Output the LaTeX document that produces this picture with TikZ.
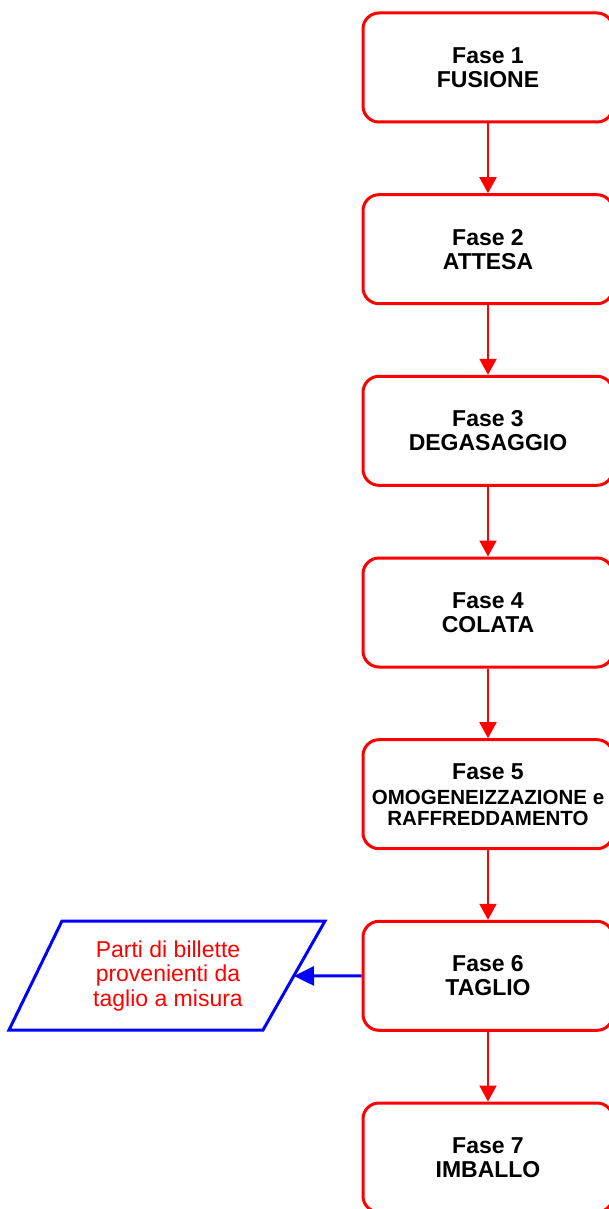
\documentclass[tikz,border=0pt]{standalone}
\usepackage{fontspec}
\setmainfont{Liberation Sans}
\usetikzlibrary{arrows.meta}
\begin{document}
\begin{tikzpicture}[x=1pt,y=-1pt,
  phase/.style={draw=red, line width=3pt, rounded corners=16pt, minimum width=250pt, minimum height=109pt,
    inner sep=0pt, align=center, font=\fontsize{23}{24}\selectfont\bfseries, text=black},
  redarrow/.style={draw=red, line width=2pt, -{Triangle[length=16pt,width=17pt]}},
  bluearrow/.style={draw=blue, line width=3pt, -{Triangle[length=20pt,width=19pt]}},
  para/.style={draw=blue, line width=3pt, line join=miter},
  paratext/.style={align=center, text=red, font=\fontsize{23}{24.5}\selectfont}]
\useasboundingbox (0,0) rectangle (608,1209);
\node[phase] (b1) at (488,67.5) {Fase 1\\FUSIONE};
\node[phase] (b2) at (488,249.2) {Fase 2\\ATTESA};
\node[phase] (b3) at (488,430.8) {Fase 3\\DEGASAGGIO};
\node[phase] (b4) at (488,612.5) {Fase 4\\COLATA};
\node[phase] (b5) at (488,794.2) {Fase 5\\[1pt]{\fontsize{20.5}{21}\selectfont OMOGENEIZZAZIONE e}\\[-3pt]{\fontsize{20.5}{21}\selectfont RAFFREDDAMENTO}};
\node[phase] (b6) at (488,975.8) {Fase 6\\TAGLIO};
\node[phase] (b7) at (488,1157.5) {Fase 7\\IMBALLO};
\foreach \a/\b in {b1/b2,b2/b3,b3/b4,b4/b5,b5/b6,b6/b7}
  \draw[redarrow] (\a.south) -- (\b.north);
\draw[para] (62,921) -- (325,921) -- (263,1030) -- (9,1030) -- cycle;
\node[paratext] (p) at (168,976) {Parti di billette\\provenienti da\\taglio a misura};
\coordinate (pr) at (294,976);
\draw[bluearrow] (b6.west) -- (pr);
\end{tikzpicture}
\end{document}
